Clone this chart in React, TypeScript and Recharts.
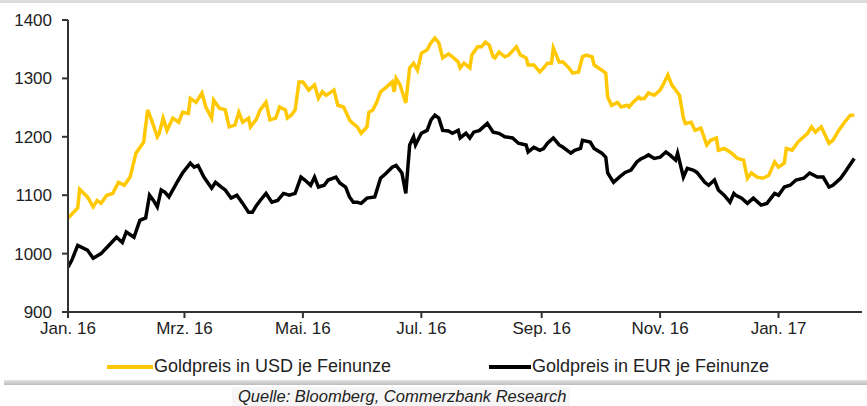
import { Line, LineChart, XAxis, YAxis } from "recharts"

// days since 1 Jan 2016, price
const usdPoints: [number, number][] = [
  [0, 1061], [5, 1078], [6, 1110], [10, 1097], [13, 1080], [15, 1091], [17, 1086], [20, 1100],
  [23, 1103], [26, 1122], [29, 1117], [32, 1131], [35, 1172], [39, 1191], [41, 1246], [43, 1229],
  [46, 1200], [47, 1206], [49, 1232], [51, 1211], [54, 1232], [57, 1225], [59, 1242], [62, 1240],
  [63, 1266], [66, 1259], [69, 1275], [71, 1251], [74, 1232], [75, 1263], [78, 1249], [81, 1246],
  [83, 1217], [86, 1220], [88, 1242], [90, 1225], [93, 1232], [94, 1217], [97, 1230], [99, 1246],
  [102, 1259], [104, 1229], [107, 1232], [109, 1251], [112, 1246], [113, 1232], [115, 1237], [117, 1246],
  [119, 1294], [121, 1294], [124, 1280], [127, 1289], [129, 1266], [131, 1277], [133, 1271], [137, 1280],
  [139, 1254], [142, 1251], [145, 1229], [146, 1225], [149, 1217], [151, 1206], [154, 1217], [155, 1242],
  [157, 1246], [159, 1259], [161, 1277], [164, 1285], [167, 1294], [168, 1277], [169, 1300], [171, 1289],
  [174, 1258], [176, 1318], [178, 1326], [180, 1314], [182, 1343], [185, 1349], [187, 1361], [189, 1369],
  [191, 1361], [193, 1335], [196, 1342], [198, 1337], [201, 1328], [202, 1318], [204, 1326], [207, 1318],
  [208, 1340], [211, 1354], [213, 1354], [215, 1362], [217, 1357], [219, 1337], [220, 1335], [222, 1345],
  [225, 1337], [227, 1340], [231, 1354], [233, 1340], [236, 1335], [237, 1323], [240, 1323], [243, 1311],
  [245, 1318], [247, 1326], [249, 1326], [250, 1352], [253, 1328], [255, 1328], [258, 1318], [260, 1309],
  [263, 1311], [265, 1337], [267, 1340], [270, 1337], [271, 1323], [275, 1314], [277, 1309], [278, 1268],
  [280, 1254], [283, 1259], [285, 1251], [288, 1254], [289, 1251], [291, 1259], [294, 1268], [295, 1265],
  [297, 1266], [299, 1275], [302, 1271], [305, 1280], [307, 1292], [309, 1306], [311, 1289], [313, 1280],
  [315, 1271], [317, 1232], [318, 1223], [321, 1225], [323, 1211], [326, 1215], [329, 1186], [331, 1194],
  [334, 1198], [335, 1177], [338, 1180], [341, 1174], [343, 1169], [344, 1165], [345, 1163], [348, 1160],
  [350, 1129], [352, 1138], [355, 1131], [358, 1129], [361, 1134], [364, 1157], [366, 1148], [369, 1155],
  [370, 1180], [373, 1177], [376, 1191], [379, 1200], [381, 1206], [383, 1217], [385, 1208], [388, 1217],
  [392, 1189], [394, 1194], [397, 1211], [400, 1225], [403, 1237], [405, 1237],
]

const eurPoints: [number, number][] = [
  [0, 977], [2, 989], [5, 1014], [10, 1006], [13, 992], [17, 1000], [21, 1014], [25, 1028],
  [28, 1019], [30, 1037], [34, 1028], [37, 1057], [40, 1061], [42, 1100], [44, 1091], [46, 1080],
  [48, 1109], [50, 1105], [52, 1097], [56, 1121], [59, 1138], [63, 1155], [65, 1148], [67, 1151],
  [70, 1131], [74, 1112], [76, 1122], [79, 1114], [81, 1109], [84, 1095], [87, 1100], [90, 1086],
  [93, 1071], [95, 1071], [97, 1082], [99, 1091], [102, 1103], [105, 1088], [108, 1091], [111, 1103],
  [114, 1100], [117, 1103], [120, 1131], [122, 1126], [125, 1117], [127, 1131], [129, 1114], [132, 1117],
  [134, 1126], [138, 1131], [140, 1121], [143, 1114], [145, 1097], [147, 1088], [149, 1088], [151, 1086],
  [154, 1095], [158, 1097], [161, 1129], [164, 1138], [167, 1148], [169, 1151], [172, 1138], [174, 1103],
  [176, 1186], [178, 1200], [179, 1186], [182, 1206], [185, 1211], [187, 1229], [189, 1237], [191, 1232],
  [193, 1211], [196, 1210], [198, 1206], [201, 1211], [202, 1198], [205, 1206], [207, 1198], [209, 1208],
  [212, 1211], [214, 1217], [216, 1223], [219, 1208], [222, 1206], [225, 1200], [229, 1198], [232, 1189],
  [236, 1186], [237, 1174], [240, 1182], [243, 1177], [245, 1180], [247, 1189], [250, 1198], [253, 1186],
  [255, 1182], [259, 1172], [261, 1177], [264, 1180], [265, 1194], [269, 1191], [271, 1180], [275, 1172],
  [277, 1165], [278, 1138], [281, 1122], [284, 1131], [287, 1139], [290, 1143], [293, 1157], [295, 1162],
  [297, 1165], [299, 1169], [302, 1163], [305, 1165], [308, 1174], [310, 1169], [313, 1160], [314, 1172],
  [317, 1131], [319, 1146], [322, 1143], [324, 1139], [328, 1122], [330, 1117], [333, 1126], [335, 1109],
  [338, 1100], [341, 1088], [343, 1103], [344, 1100], [347, 1095], [350, 1086], [353, 1095], [357, 1083],
  [360, 1086], [364, 1103], [366, 1100], [369, 1114], [372, 1117], [375, 1126], [379, 1129], [382, 1138],
  [386, 1131], [389, 1131], [392, 1114], [394, 1117], [398, 1129], [401, 1143], [405, 1163],
]

const xTicks = [0, 60, 121, 182, 244, 305, 366]
const xLabels = ["Jan. 16", "Mrz. 16", "Mai. 16", "Jul. 16", "Sep. 16", "Nov. 16", "Jan. 17"]
const yTicks = [900, 1000, 1100, 1200, 1300, 1400]

const usdData = usdPoints.map(([day, value]) => ({ day, value }))
const eurData = eurPoints.map(([day, value]) => ({ day, value }))

const GOLD = "#ffc800"
const FONT = "'Liberation Sans', Arial, sans-serif"
const axisStyle = { stroke: "#333", strokeWidth: 2 }

export default function App() {
  return (
    <div
      style={{
        position: "absolute",
        left: 0,
        top: 0,
        width: 867,
        height: 406,
        background: "#fff",
        overflow: "hidden",
        fontFamily: FONT,
      }}
    >
      <div style={{ position: "absolute", left: 0, top: 0, width: 867, height: 3, background: "#dcdcdc" }} />
      <LineChart width={867} height={345} margin={{ top: 20, right: 5, left: 0, bottom: 0 }}>
        <XAxis
          type="number"
          dataKey="day"
          domain={[0, 409]}
          ticks={xTicks}
          tickFormatter={(v: number) => xLabels[xTicks.indexOf(v)] ?? ""}
          height={33}
          tickSize={6}
          tickMargin={4}
          axisLine={axisStyle}
          tickLine={axisStyle}
          tick={{ fill: "#222", fontSize: 17, fontFamily: FONT }}
          allowDataOverflow
        />
        <YAxis
          type="number"
          domain={[900, 1400]}
          ticks={yTicks}
          width={68}
          tickSize={6}
          tickMargin={10}
          axisLine={axisStyle}
          tickLine={axisStyle}
          tick={{ fill: "#222", fontSize: 17, fontFamily: FONT }}
          allowDataOverflow
        />
        <Line
          data={usdData}
          dataKey="value"
          type="linear"
          stroke={GOLD}
          strokeWidth={3.5}
          dot={false}
          isAnimationActive={false}
        />
        <Line
          data={eurData}
          dataKey="value"
          type="linear"
          stroke="#000"
          strokeWidth={3.5}
          dot={false}
          isAnimationActive={false}
        />
      </LineChart>

      <div style={{ position: "absolute", left: 107, top: 356, display: "flex", alignItems: "center", fontSize: 18, color: "#222" }}>
        <span style={{ display: "inline-block", width: 46, height: 4, background: GOLD, marginRight: 1 }} />
        Goldpreis in USD je Feinunze
      </div>
      <div style={{ position: "absolute", left: 489, top: 356, display: "flex", alignItems: "center", fontSize: 18, color: "#222" }}>
        <span style={{ display: "inline-block", width: 42, height: 4, background: "#000", marginRight: 1 }} />
        Goldpreis in EUR je Feinunze
      </div>

      <div style={{ position: "absolute", left: 4, top: 380, width: 863, height: 5, background: "linear-gradient(#e4e4e4, #bdbdbd)" }} />
      <div
        style={{
          position: "absolute",
          left: 232,
          top: 387,
          width: 338,
          height: 19,
          background: "#f6f6f6",
          fontStyle: "italic",
          fontSize: 16.5,
          color: "#222",
          lineHeight: "19px",
          paddingLeft: 6,
          boxSizing: "border-box",
        }}
      >
        Quelle: Bloomberg, Commerzbank Research
      </div>
    </div>
  )
}
